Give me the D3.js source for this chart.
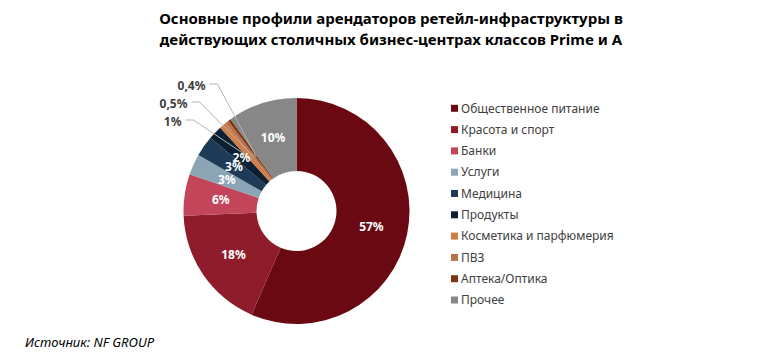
<!DOCTYPE html>
<html>
<head>
<meta charset="utf-8">
<script src="https://cdn.jsdelivr.net/npm/d3@7"></script>
<style>
  body { margin: 0; background: #fff; }
  svg { display: block; font-family: "Noto Sans", "Open Sans", sans-serif; }
</style>
</head>
<body>
<div id="chart"></div>
<script>
// data
const categories = ["Общественное питание", "Красота и спорт", "Банки", "Услуги", "Медицина",
  "Продукты", "Косметика и парфюмерия", "ПВЗ", "Аптека/Оптика", "Прочее"];
const values = [57, 18, 6, 3, 3, 2, 1, 0.5, 0.4, 10];
const valueLabels = ["57%", "18%", "6%", "3%", "3%", "2%", "1%", "0,5%", "0,4%", "10%"];
const colors = ["#6b0913", "#8f1c2b", "#c2455a", "#8ba4b6", "#1d3a57",
  "#0c1f33", "#d07d47", "#b6704b", "#7a3612", "#878787"];
const titleLines = ["Основные профили арендаторов ретейл-инфраструктуры в",
  "действующих столичных бизнес-центрах классов Prime и А"];
const source = "Источник: NF GROUP";

const width = 766, height = 352;
const cx = 296.5, cy = 211, outerR = 113, innerR = 40;

const svg = d3.select("#chart").append("svg")
  .attr("width", width).attr("height", height);

// title
svg.append("g").selectAll("text")
  .data(titleLines)
  .enter().append("text")
  .attr("x", 391)
  .attr("y", (d, i) => 24 + i * 21)
  .attr("text-anchor", "middle")
  .attr("font-size", 15)
  .attr("font-weight", "bold")
  .attr("fill", "#000")
  .text(d => d);

const pie = d3.pie().sort(null).value(d => d)(values);
const arc = d3.arc().innerRadius(innerR).outerRadius(outerR);

const g = svg.append("g").attr("transform", `translate(${cx},${cy})`);

g.selectAll("path")
  .data(pie)
  .enter().append("path")
  .attr("d", arc)
  .attr("fill", (d, i) => colors[i]);

// small slices: labels outside with leader lines (offsets relative to centre)
const outsideLayout = { 6: [-115, -89], 7: [-109, -107], 8: [-91, -125] };
const outside = pie.filter(d => d.value < 2);
const pointR = d3.arc().innerRadius(68).outerRadius(68);

g.selectAll("polyline")
  .data(outside)
  .enter().append("polyline")
  .attr("points", d => {
    const [lx, ly] = outsideLayout[d.index];
    const [px, py] = pointR.centroid(d);
    return [[lx + 4, ly - 2], [lx + 12, ly - 2], [px, py]].map(p => p.join(",")).join(" ");
  })
  .attr("fill", "none")
  .attr("stroke", "#b4b4b4")
  .attr("stroke-width", 1);

// labels inside the ring
const inside = pie.filter(d => d.value >= 2);
g.selectAll("text.in")
  .data(inside)
  .enter().append("text")
  .attr("class", "in")
  .attr("transform", d => `translate(${arc.centroid(d)})`)
  .attr("dy", "0.35em")
  .attr("text-anchor", "middle")
  .attr("font-size", 12)
  .attr("font-weight", "bold")
  .attr("fill", "#fff")
  .text(d => valueLabels[d.index]);

g.selectAll("text.out")
  .data(outside)
  .enter().append("text")
  .attr("class", "out")
  .attr("x", d => outsideLayout[d.index][0])
  .attr("y", d => outsideLayout[d.index][1])
  .attr("dy", "0.35em")
  .attr("text-anchor", "end")
  .attr("font-size", 12)
  .attr("font-weight", "bold")
  .attr("fill", "#404040")
  .text(d => valueLabels[d.index]);

// legend
const legend = svg.append("g").selectAll("g")
  .data(categories)
  .enter().append("g")
  .attr("transform", (d, i) => `translate(451,${108.3 + i * 21.3})`);

legend.append("rect")
  .attr("x", 0).attr("y", -3.5)
  .attr("width", 7).attr("height", 7)
  .attr("fill", (d, i) => colors[i]);

legend.append("text")
  .attr("x", 10)
  .attr("dy", "0.35em")
  .attr("font-size", 12)
  .attr("fill", "#404040")
  .text(d => d);

// source
svg.append("text")
  .attr("x", 25).attr("y", 342)
  .attr("dy", "0.35em")
  .attr("font-size", 13)
  .attr("font-style", "italic")
  .attr("fill", "#000")
  .text(source);
</script>
</body>
</html>
